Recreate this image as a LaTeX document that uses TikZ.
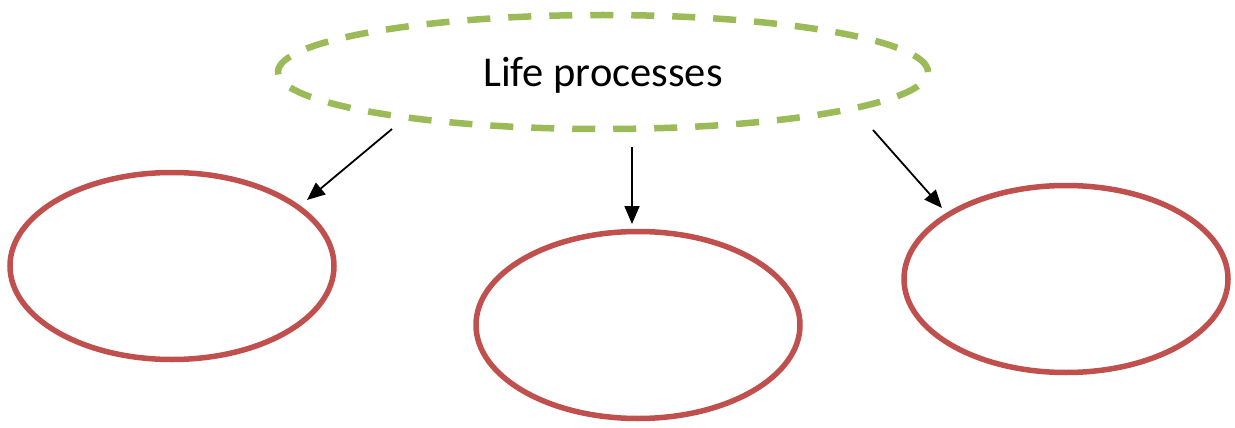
\documentclass[tikz,border=0pt]{standalone}
\usepackage{fontspec}
\setmainfont{Carlito}
\usetikzlibrary{shapes.geometric,arrows.meta}
\definecolor{leafgreen}{RGB}{155,187,89}
\definecolor{brickred}{RGB}{192,80,77}
\tikzset{
  topic/.style={ellipse, draw=leafgreen, line width=6.5pt,
    dash pattern=on 23pt off 18pt, inner sep=0pt,
    minimum width=650pt, minimum height=114pt},
  blank/.style={ellipse, draw=brickred, line width=5.5pt, inner sep=0pt,
    minimum width=324pt, minimum height=187pt},
  link/.style={line width=1.8pt, -{Triangle[length=18pt,width=15pt]}}
}
\begin{document}
\begin{tikzpicture}[x=1pt,y=-1pt]
  \useasboundingbox (0,0) rectangle (1235,428);
  \node[topic] (top) at (603,72) {};
  \node[anchor=base, font=\fontsize{42.5}{50}\selectfont] (title) at (603,87) {Life processes};
  \node[blank] (left) at (172,266) {};
  \node[blank] (mid) at (638,325) {};
  \node[blank] (right) at (1066,279) {};
  \draw[link] ([xshift=-211pt,yshift=-57pt]top.center) -- ([xshift=135pt,yshift=66pt]left.center);
  \draw[link] ([xshift=29pt,yshift=-75pt]top.center) -- ([xshift=-6pt,yshift=101pt]mid.center);
  \draw[link] ([xshift=270pt,yshift=-58pt]top.center) -- ([xshift=-124pt,yshift=71pt]right.center);
\end{tikzpicture}
\end{document}
